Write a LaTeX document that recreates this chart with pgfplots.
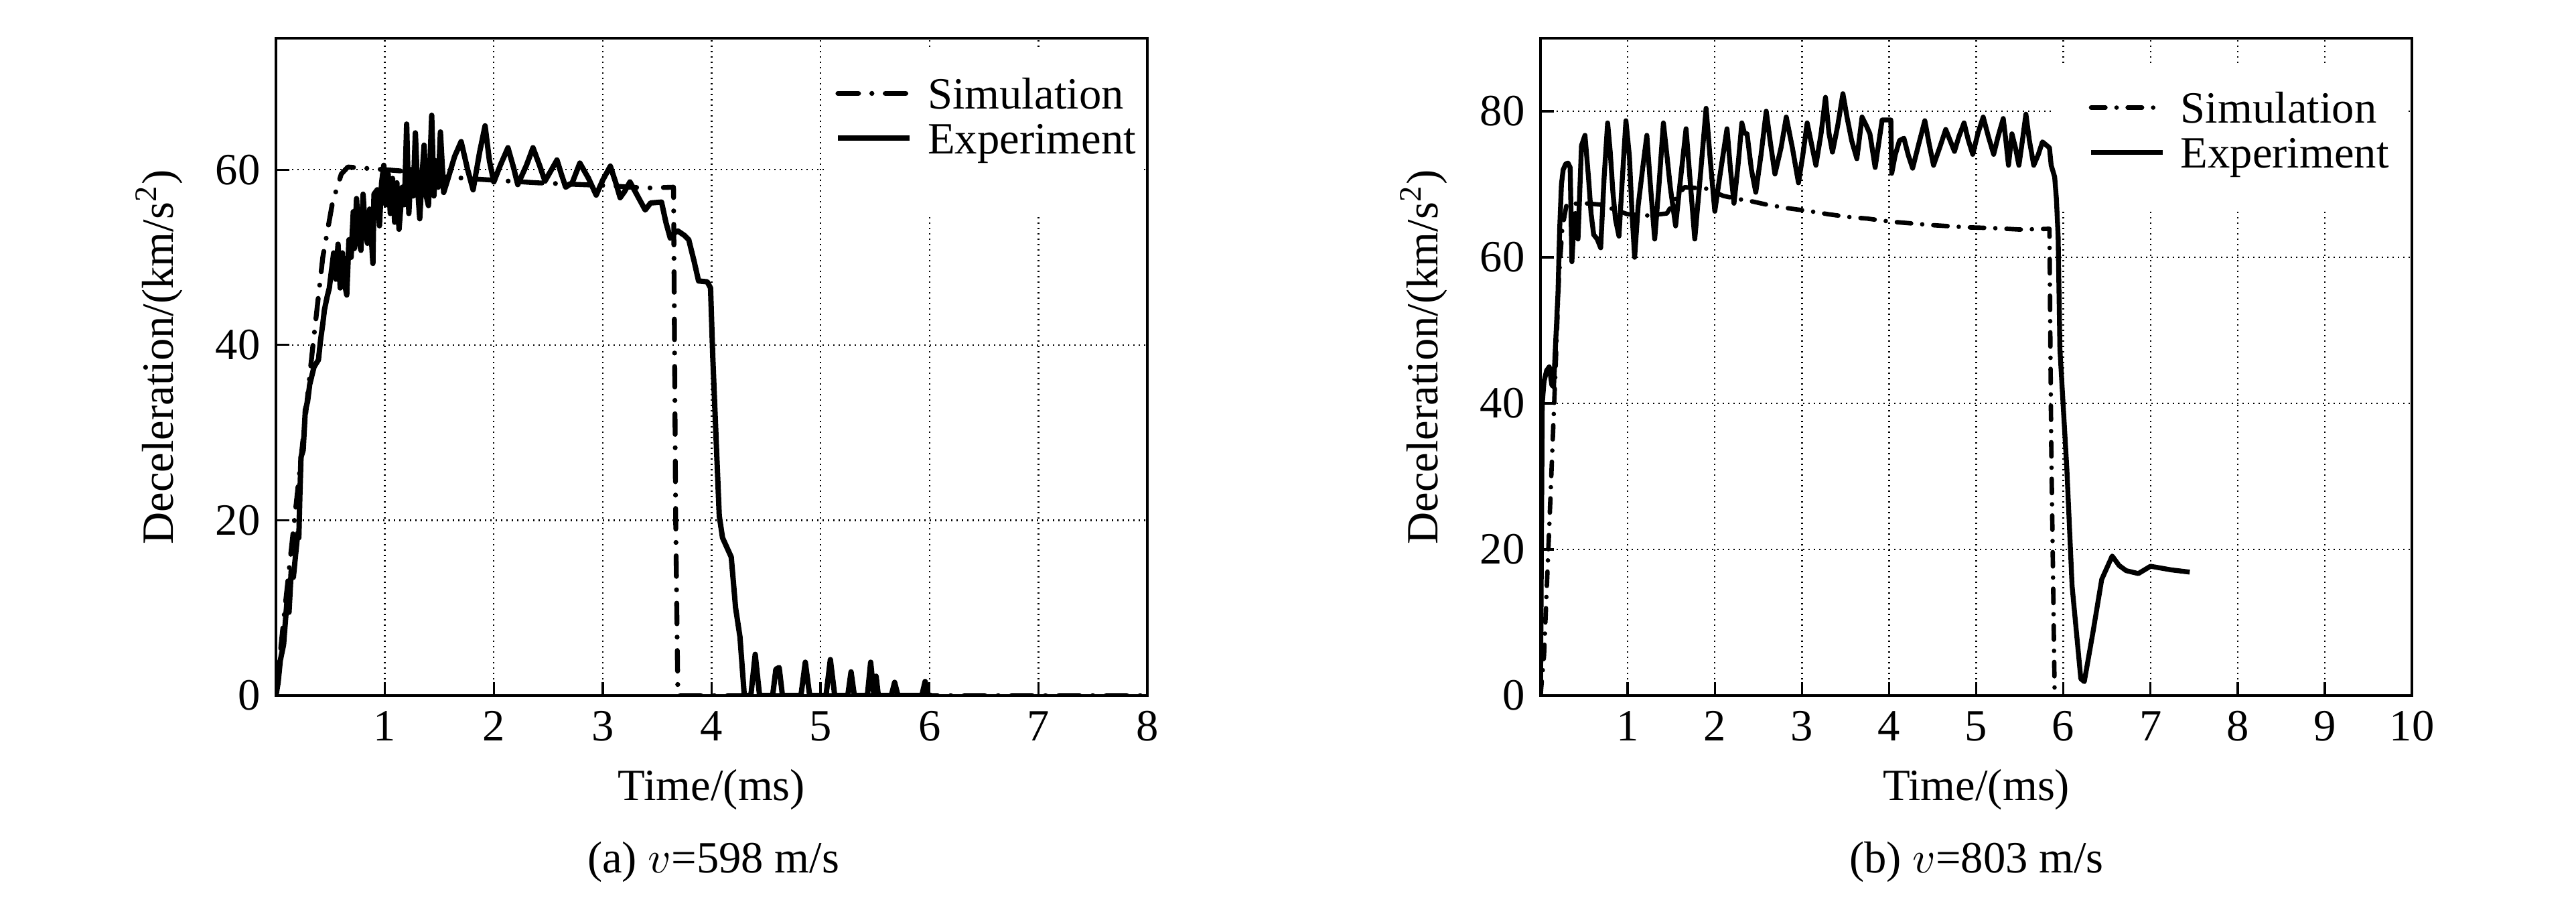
\documentclass[border=0pt]{standalone}
\usepackage{fontspec}
\setmainfont{Liberation Serif}
\usepackage{pgfplots}
\pgfplotsset{compat=1.18}

\pgfplotstableread{
t a
0 0
0.07 8.5
0.2 23.5
0.34 40
0.43 50
0.52 56.3
0.6 59.5
0.66 60.3
1.0 60
1.2 59.8
1.5 59.2
2.0 58.8
2.4 58.5
3.0 58.2
3.4 57.9
3.65 58
3.67 20
3.69 0
8 0
}\simA

\pgfplotstableread{
t a
0 0
0.02 1.5
0.04 4
0.07 5.8
0.09 9
0.1 10.5
0.12 9.5
0.14 14.2
0.16 13.5
0.18 16
0.2 18.5
0.21 18
0.22 23
0.23 27.2
0.25 28
0.27 32.6
0.29 33.5
0.31 35.5
0.33 36.5
0.35 37.5
0.37 37.9
0.39 38.3
0.41 40.6
0.43 42.4
0.445 44
0.47 45.5
0.49 46.5
0.51 48.5
0.53 50.5
0.55 47.5
0.57 51.5
0.59 46.5
0.61 50.5
0.63 47
0.65 45.7
0.67 52
0.69 50
0.71 55.2
0.72 51
0.74 56.7
0.76 52
0.78 50.8
0.8 57.2
0.82 53
0.84 51.6
0.86 55.5
0.89 49.3
0.9 57.2
0.93 57.7
0.95 53.6
0.97 58.5
0.99 60.5
1.01 56
1.03 59.5
1.05 55
1.07 59
1.09 54
1.11 58.5
1.13 53.2
1.16 58
1.18 56
1.2 65.2
1.22 55
1.24 60
1.26 57
1.28 64.2
1.3 58
1.32 54.4
1.34 59
1.36 62.8
1.38 57
1.4 55.9
1.43 66.2
1.45 57
1.47 61
1.49 58
1.51 64.3
1.54 57.4
1.58 59
1.64 61.5
1.7 63.2
1.76 60
1.81 57.7
1.87 62
1.92 65
1.96 61
2.0 58.6
2.06 60.5
2.13 62.5
2.18 60.3
2.22 58.3
2.3 60.5
2.36 62.5
2.42 60.5
2.47 58.7
2.53 60
2.58 61.1
2.62 59.5
2.66 58.0
2.72 58.5
2.79 60.75
2.87 59
2.94 57.1
3.0 58.8
3.07 60.4
3.12 58.5
3.16 56.8
3.2 57.5
3.25 58.6
3.32 57
3.39 55.4
3.44 56.2
3.54 56.3
3.58 54
3.62 52.2
3.66 52.8
3.69 53
3.75 52.5
3.79 52
3.84 49.5
3.88 47.3
3.96 47.2
3.99 46.5
4.01 38.8
4.03 32.6
4.07 20.5
4.1 18
4.14 16.9
4.18 15.8
4.22 10
4.26 6.7
4.30 0
4.36 0
4.40 4.7
4.44 0
4.56 0
4.59 3.0
4.62 3.2
4.65 0
4.82 0
4.86 3.8
4.9 0
5.05 0
5.09 4.1
5.13 0
5.25 0
5.28 2.7
5.31 0
5.43 0
5.46 3.8
5.49 0
5.51 2.2
5.53 0
5.65 0
5.68 1.5
5.71 0
5.93 0
5.96 1.6
5.99 0
6.02 0
}\expA

\pgfplotstableread{
t a
0 0
0.04 5.5
0.1 23
0.17 44
0.21 57
0.25 64
0.3 67.3
0.5 67.4
0.7 67.2
0.85 66.5
1.0 65.9
1.2 65.7
1.45 66
1.55 68
1.65 69.6
1.9 69.4
2.1 68.4
2.26 68.0
2.41 67.7
2.6 67.2
2.85 66.7
3.1 66.3
3.3 65.9
3.55 65.5
3.75 65.3
4.0 64.9
4.2 64.7
4.5 64.4
4.9 64.1
5.2 64.0
5.5 63.8
5.84 63.9
5.86 35
5.9 0
}\simB

\pgfplotstableread{
t a
0 0
0.02 40
0.04 43
0.07 44.5
0.1 45
0.13 42.5
0.15 42.3
0.18 50
0.2 55
0.22 64
0.24 70
0.26 72
0.29 72.8
0.315 72.9
0.34 72.3
0.36 59.4
0.38 64
0.4 66
0.43 62.5
0.47 75.3
0.51 76.7
0.55 71
0.58 66
0.61 63.1
0.65 62.5
0.69 61.3
0.73 71
0.77 78.4
0.8 74.4
0.83 69
0.86 65.2
0.9 62.9
0.94 71
0.98 78.7
1.02 73.8
1.05 66
1.08 60.0
1.12 67
1.17 72
1.22 76.7
1.26 70
1.31 62.5
1.36 70
1.41 78.4
1.45 74
1.49 69.5
1.55 64.3
1.6 70
1.67 77.6
1.72 70
1.77 62.5
1.84 72
1.9 80.4
1.95 73
2.0 66.3
2.05 70.5
2.14 77.6
2.18 72
2.22 67.4
2.27 73
2.31 78.4
2.34 77
2.37 76.9
2.42 72
2.47 68.9
2.53 74
2.59 80.0
2.64 75.5
2.69 71.4
2.76 75
2.82 79.2
2.89 75
2.96 70.2
3.01 74
3.06 78.4
3.11 75.5
3.16 72.6
3.22 77
3.27 81.9
3.31 77
3.35 74.4
3.41 78
3.47 82.4
3.52 79
3.57 76.0
3.63 73.5
3.69 79.2
3.74 78
3.78 76.9
3.84 72.3
3.92 78.8
4.02 78.8
4.03 71.5
4.07 74
4.12 76.0
4.17 76.3
4.22 74
4.27 72.2
4.34 75.5
4.41 78.7
4.46 75.5
4.51 72.6
4.58 75
4.65 77.5
4.7 76
4.75 74.5
4.8 76.5
4.86 78.4
4.91 76
4.96 74.1
5.02 77
5.08 79.2
5.14 76.5
5.2 74.1
5.25 76.5
5.31 79.0
5.34 76
5.37 72.6
5.41 76.9
5.45 75
5.49 72.6
5.53 76
5.57 79.6
5.61 76
5.66 72.6
5.71 74
5.76 75.8
5.84 75.0
5.86 72.6
5.9 71
5.92 68
5.94 62.8
5.96 47.5
6.04 31
6.1 15
6.2 2.3
6.24 1.9
6.34 8.7
6.44 15.9
6.56 19.1
6.64 17.8
6.72 17.1
6.86 16.7
7.0 17.7
7.24 17.2
7.45 16.9
}\expB

\pgfplotsset{
  myax/.style={
    scale only axis, width=195.15pt, height=147.15pt, anchor=south west,
    axis line style={line width=0.6pt},
    tick align=inside, major tick length=3pt,
    every tick/.style={black, line width=0.5pt},
    xtick pos=bottom, ytick pos=left,
    grid=major,
    major grid style={black, line width=0.35pt, dash pattern=on 0.35pt off 0.85pt},
    tick label style={font=\fontsize{10}{12}\selectfont},
    /pgf/number format/assume math mode=true,
    label style={font=\fontsize{10}{12}\selectfont},
    xlabel={Time/(ms)},
    ylabel={Deceleration/(km/s\textsuperscript{2})},
    xlabel style={at={(axis description cs:0.5,-0.160)}, anchor=base},
    ylabel style={at={(axis description cs:-0.134,0.515)}, anchor=center},
    xmin=0, ymin=0,
    legend cell align=left,
    legend style={draw=none, fill=none, inner sep=0pt, outer sep=0pt,
      column sep=1.5pt, row sep=-2.5pt,
      cells={anchor=base west, inner sep=0pt, text height=7pt, text depth=2pt},
      font=\fontsize{10}{12}\selectfont},
    legend image code/.code={\path[draw=none,fill=none] (0pt,0pt) rectangle (16pt,7pt); \draw[##1] (0pt,3.5pt) -- (16pt,3.5pt);},
    every axis plot/.append style={line join=round},
  },
}

\begin{document}
\begin{tikzpicture}[x=1pt,y=1pt]
\useasboundingbox (0,0) rectangle (576.9,205.5);

\begin{axis}[myax, at={(61.8pt,49.8pt)},
  xmax=8, ymax=75, xtick={1,...,8}, ytick={0,20,40,60},
  legend style={at={(axis cs:5.135,71.5)}, anchor=north west}]
\fill[white] (rel axis cs:0.631,0.734) rectangle (rel axis cs:0.996,0.984);
\addplot[black, line width=1.1pt, line cap=round, dash pattern=on 4.6pt off 3pt on 0pt off 3pt] table[x=t,y=a] {\simA};
\addlegendentry{Simulation}
\addplot[black, line width=1.2pt] table[x=t,y=a] {\expA};
\addlegendentry{Experiment}
\end{axis}

\begin{axis}[myax, at={(345pt,49.8pt)},
  xmax=10, ymax=90, xtick={1,...,10}, ytick={0,20,40,60,80},
  legend style={at={(axis cs:6.29,83.86)}, anchor=north west}]
\fill[white] (rel axis cs:0.59,0.741) rectangle (rel axis cs:0.996,0.959);
\addplot[black, line width=1.0pt, line cap=round, dash pattern=on 3.2pt off 2.5pt on 0pt off 2.5pt] table[x=t,y=a] {\simB};
\addlegendentry{Simulation}
\addplot[black, line width=1.1pt] table[x=t,y=a] {\expB};
\addlegendentry{Experiment}
\end{axis}

\node[anchor=base, font=\fontsize{10}{12}\selectfont] at (159.75,10.05) {(a) $v$=598 m/s};
\node[anchor=base, font=\fontsize{10}{12}\selectfont] at (442.65,10.05) {(b) $v$=803 m/s};
\end{tikzpicture}
\end{document}
